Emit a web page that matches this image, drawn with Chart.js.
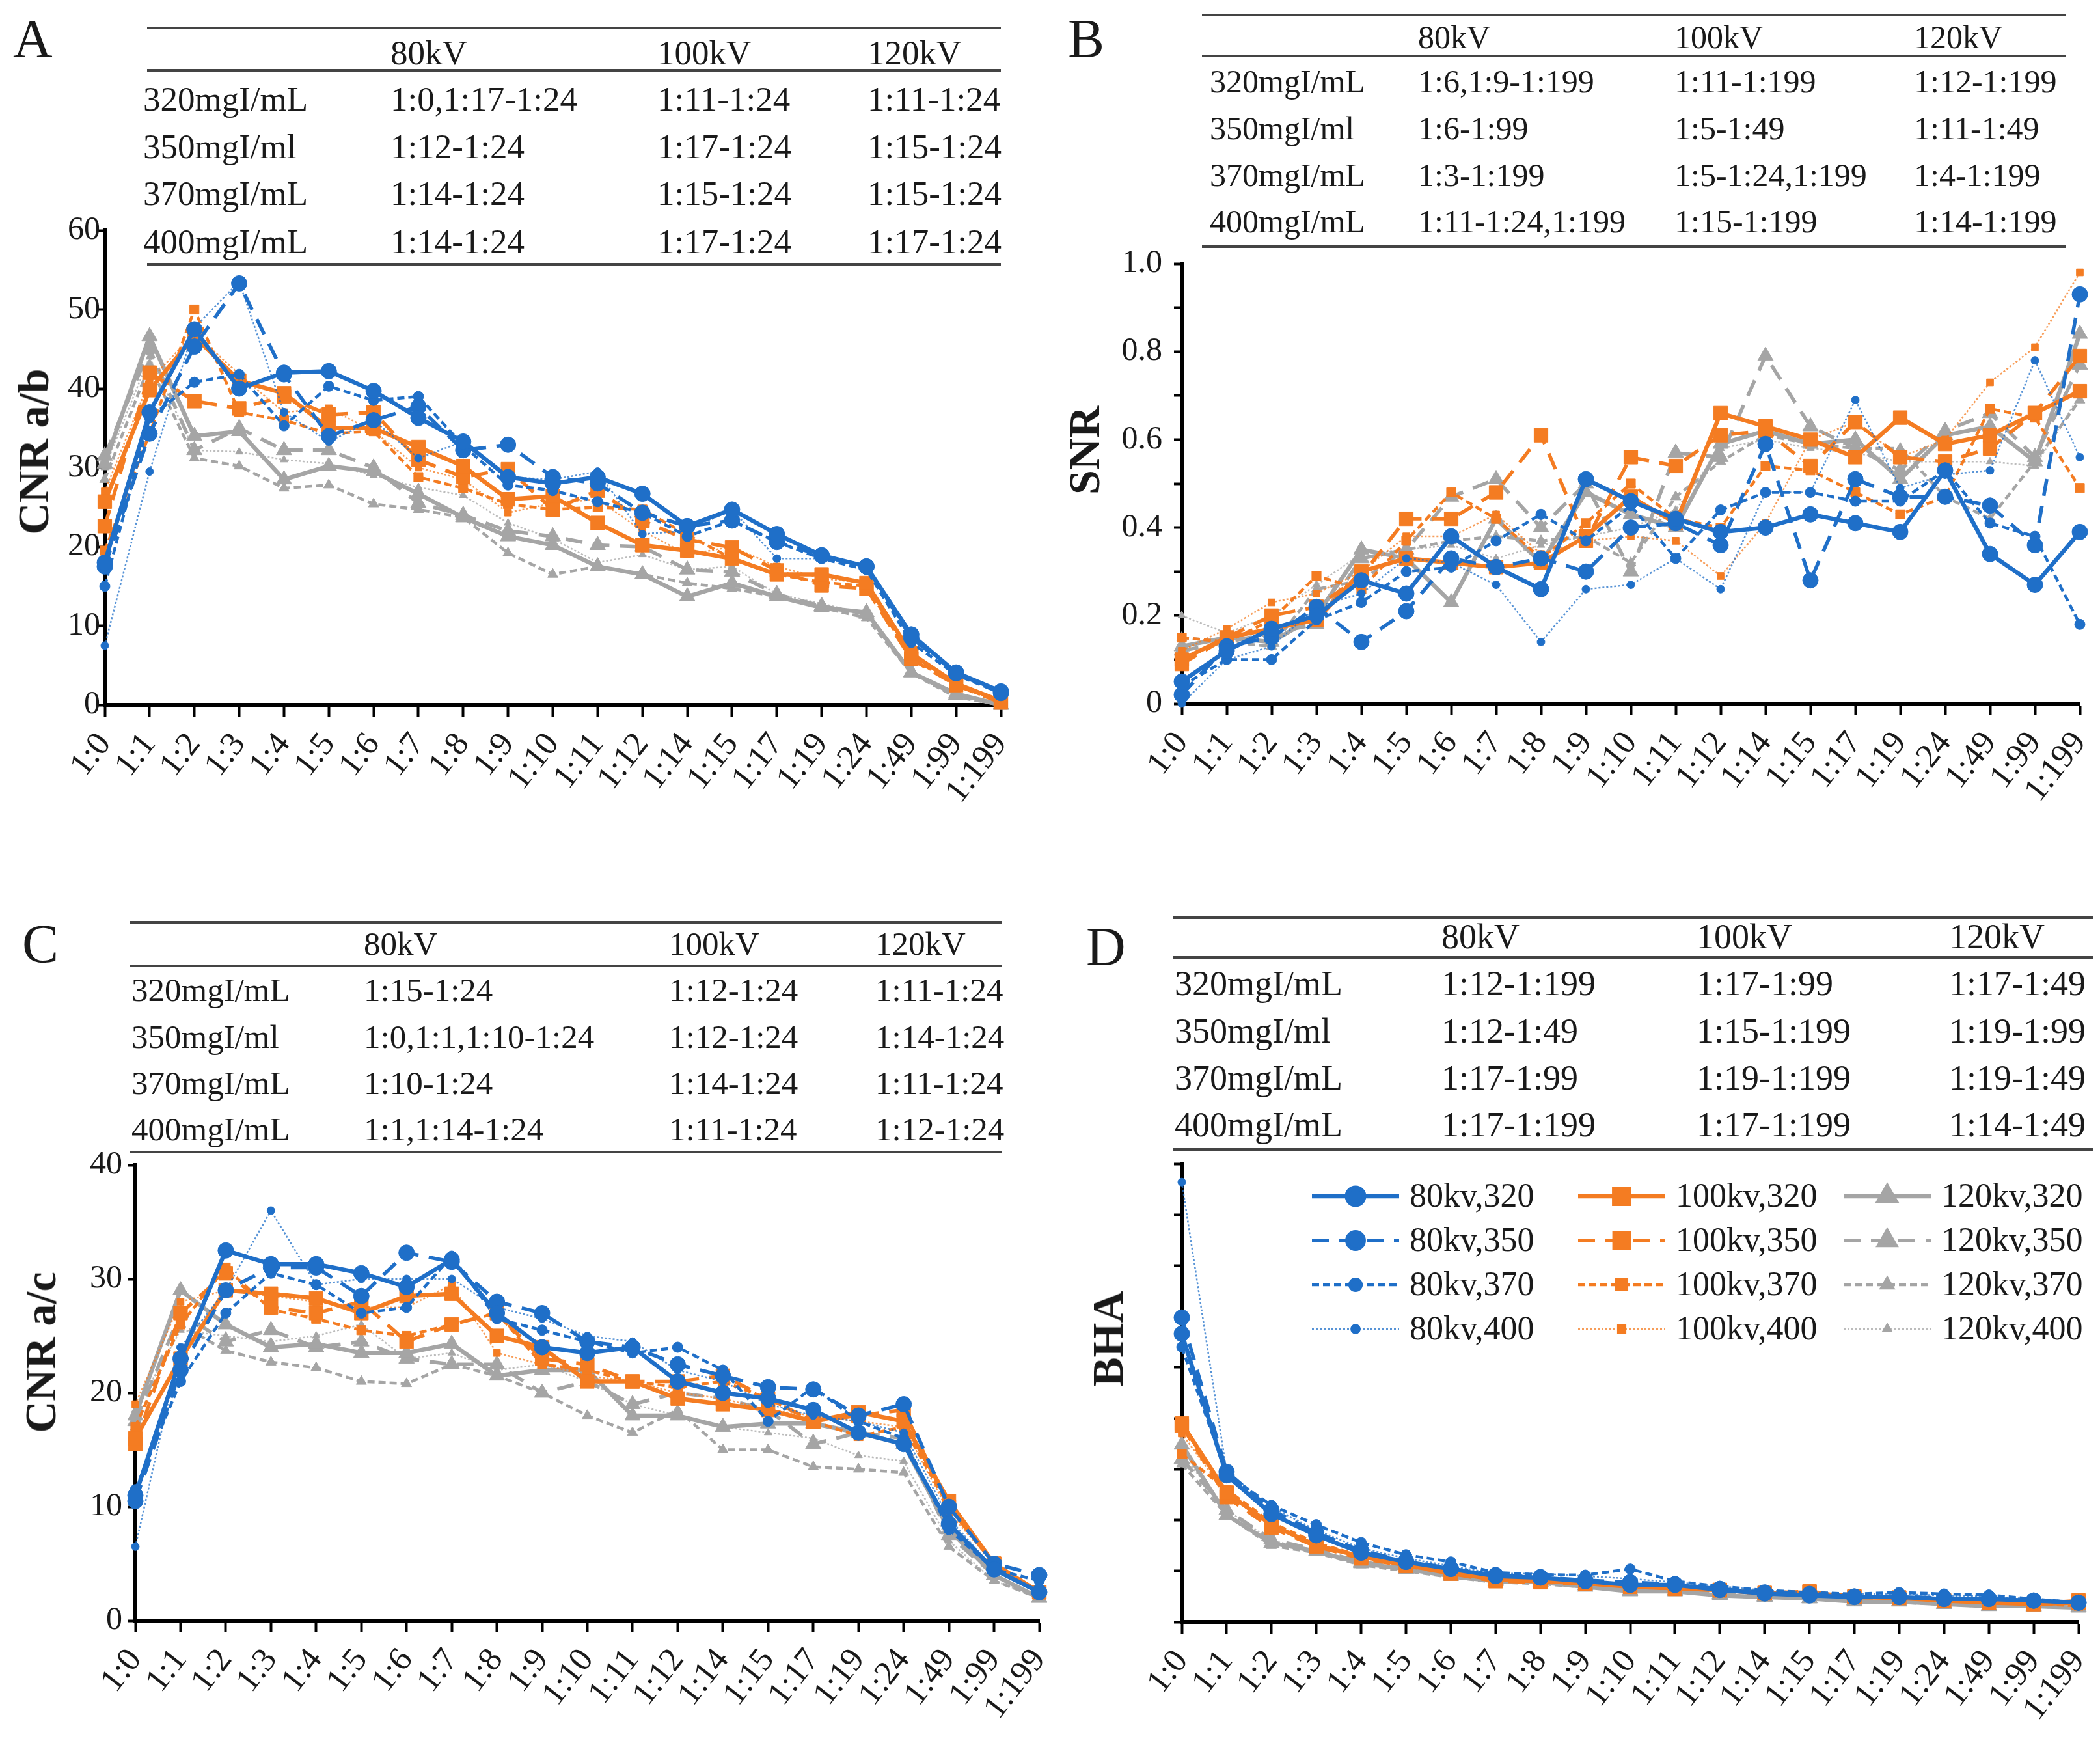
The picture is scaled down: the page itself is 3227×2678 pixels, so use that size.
<!DOCTYPE html>
<html lang="en">
<head>
<meta charset="UTF-8">
<title>CNR, SNR and BHA by dilution ratio</title>
<script src="https://cdn.jsdelivr.net/npm/chart.js@4"></script>
<style>
    body { margin: 0; background: #fff; }
    #page {
        position: relative;
        width: 3227px;
        height: 2678px;
        background: #fff;
        overflow: hidden;
        font-family: 'Liberation Serif', 'Times New Roman', serif;
        color: #1a1a1a;
    }
    .box { position: absolute; }
    .letter { position: absolute; font-size: 84px; line-height: 1; }
    .cell { position: absolute; white-space: nowrap; line-height: 1; transform: translateY(-50%); }
    .rule { position: absolute; height: 4px; background: #444; }
    .ytitle {
        position: absolute;
        font-weight: bold;
        font-size: 68px;
        line-height: 1;
        white-space: nowrap;
        transform: translate(-50%, -50%) rotate(-90deg);
    }
</style>
</head>
<body>
<div id="page"></div>

<script>
    // categories (dilution ratios)
    const ratios = ['1:0', '1:1', '1:2', '1:3', '1:4', '1:5', '1:6', '1:7', '1:8', '1:9', '1:10',
                    '1:11', '1:12', '1:14', '1:15', '1:17', '1:19', '1:24', '1:49', '1:99', '1:199'];
    const kvNames = ['80kv', '100kv', '120kv'];
    const iodineNames = ['320', '350', '370', '400'];

    // A: CNR a/b   rows = 320, 350, 370, 400 mgI/mL
    const cnrAB80 = [
        [18, 37, 47.5, 40, 42, 42.2, 39.7, 36.3, 33.3, 28.8, 28, 28.8, 26.7, 22.6, 24.7, 21.6, 18.9, 17.5, 8.9, 4.1, 1.7],
        [17.5, 34.3, 45.3, 53.3, 41.8, 34, 36, 37.7, 32.2, 32.9, 28.8, 28, 24.3, 22.6, 23.3, 20.6, 18.9, 17.5, 8.5, 4, 1.5],
        [15, 36.3, 40.8, 41.8, 35.3, 40.3, 38.5, 39, 32.8, 27.8, 27.1, 25.7, 24.3, 21.3, 23.3, 20.6, 18.5, 17.1, 7.9, 3.8, 1.5],
        [7.5, 29.5, 47.7, 53.5, 37, 33.3, 36, 31.2, 33.3, 28.8, 28.5, 29.5, 21.6, 22, 24.7, 18.5, 18.5, 17.5, 8.5, 4.1, 1.7]
    ];
    const cnrAB100 = [
        [25.7, 39.8, 46.6, 41, 39.4, 35, 35, 32.6, 30.2, 26, 26.4, 23, 20.2, 19.5, 18.5, 16.5, 16.5, 15.4, 6.5, 2.7, 0.5],
        [22.6, 42, 38.4, 37.5, 39, 36.7, 37, 31, 28.8, 29.8, 24.7, 27.1, 23.3, 20.9, 19.9, 17, 15.1, 14.7, 5.8, 2.5, 0.3],
        [19.5, 34.3, 50, 37, 36, 34.3, 34.6, 28.8, 27.4, 25.4, 24.7, 25, 24.7, 21.5, 18.5, 16.5, 15.5, 15, 6, 2.5, 0.3],
        [27, 41, 47, 41.8, 37, 37.5, 34.6, 30, 28.5, 24.3, 25.5, 26, 22, 19, 20, 17.5, 16, 15.4, 6.5, 2.7, 0.5]
    ];
    const cnrAB120 = [
        [30.5, 46.6, 34, 34.6, 28.5, 30.2, 29.5, 26.7, 23.7, 21.3, 20.2, 17.5, 16.5, 13.7, 15.4, 13.7, 12.3, 11.7, 4.1, 1.4, 0],
        [31.5, 45, 32.2, 35, 32.2, 32.2, 30, 25.5, 24, 22, 21.3, 20.2, 20, 17.1, 16.8, 14, 12.5, 11.5, 4.1, 1.2, 0],
        [28.5, 43, 31.2, 30.2, 27.4, 27.8, 25.4, 24.7, 23.7, 19.2, 16.5, 17.5, 16.5, 15.4, 14.7, 13.7, 12.3, 11, 4, 1, 0],
        [30, 44, 32.2, 32, 31, 30.5, 29, 27.5, 26.5, 23, 21, 18, 19, 17.1, 17.5, 14, 12.8, 11.5, 4.1, 1.2, 0]
    ];

    // B: SNR
    const snr80 = [
        [0.05, 0.12, 0.17, 0.2, 0.28, 0.25, 0.38, 0.31, 0.26, 0.51, 0.46, 0.42, 0.39, 0.4, 0.43, 0.41, 0.39, 0.53, 0.34, 0.27, 0.39],
        [0.02, 0.13, 0.15, 0.22, 0.14, 0.21, 0.33, 0.31, 0.33, 0.3, 0.4, 0.41, 0.36, 0.59, 0.28, 0.51, 0.47, 0.47, 0.45, 0.36, 0.93],
        [0.04, 0.1, 0.1, 0.19, 0.23, 0.3, 0.31, 0.37, 0.43, 0.37, 0.45, 0.33, 0.44, 0.48, 0.48, 0.46, 0.46, 0.53, 0.41, 0.38, 0.18],
        [0, 0.1, 0.13, 0.22, 0.25, 0.33, 0.32, 0.27, 0.14, 0.26, 0.27, 0.33, 0.26, 0.48, 0.48, 0.69, 0.49, 0.52, 0.53, 0.78, 0.56]
    ];
    const snr100 = [
        [0.1, 0.15, 0.17, 0.19, 0.3, 0.33, 0.32, 0.31, 0.32, 0.38, 0.47, 0.41, 0.66, 0.63, 0.6, 0.56, 0.65, 0.59, 0.61, 0.66, 0.71],
        [0.09, 0.15, 0.2, 0.22, 0.29, 0.42, 0.42, 0.48, 0.61, 0.37, 0.56, 0.54, 0.61, 0.62, 0.54, 0.64, 0.56, 0.55, 0.58, 0.66, 0.79],
        [0.15, 0.14, 0.19, 0.29, 0.26, 0.37, 0.48, 0.42, 0.33, 0.41, 0.5, 0.42, 0.4, 0.54, 0.53, 0.48, 0.43, 0.47, 0.67, 0.65, 0.49],
        [0.12, 0.17, 0.23, 0.25, 0.3, 0.38, 0.38, 0.43, 0.34, 0.37, 0.38, 0.37, 0.29, 0.41, 0.6, 0.64, 0.56, 0.6, 0.73, 0.81, 0.98]
    ];
    const snr120 = [
        [0.13, 0.15, 0.14, 0.2, 0.35, 0.33, 0.23, 0.42, 0.32, 0.48, 0.43, 0.4, 0.59, 0.62, 0.59, 0.6, 0.51, 0.61, 0.63, 0.55, 0.84],
        [0.12, 0.14, 0.16, 0.18, 0.33, 0.35, 0.47, 0.51, 0.4, 0.5, 0.3, 0.57, 0.56, 0.79, 0.63, 0.58, 0.53, 0.62, 0.66, 0.56, 0.77],
        [0.15, 0.14, 0.13, 0.26, 0.28, 0.35, 0.37, 0.38, 0.37, 0.38, 0.32, 0.47, 0.55, 0.61, 0.59, 0.58, 0.58, 0.47, 0.42, 0.55, 0.69],
        [0.2, 0.16, 0.2, 0.27, 0.34, 0.35, 0.36, 0.33, 0.36, 0.38, 0.4, 0.44, 0.58, 0.6, 0.58, 0.57, 0.55, 0.55, 0.55, 0.54, 0.7]
    ];

    // C: CNR a/c
    const cnrAC80 = [
        [11, 23, 32.5, 31.3, 31.3, 30.5, 29.3, 31.7, 27, 24, 23.5, 24, 21, 20, 19.5, 18.5, 16.5, 15.5, 8.5, 4.5, 2.5],
        [10.5, 22, 29, 31, 31, 28.5, 32.3, 31.5, 28, 27, 24.5, 24, 22.5, 21.5, 20.5, 20.3, 18, 19, 10, 5, 4],
        [11.5, 21, 27, 30.5, 29.5, 27, 27.5, 32, 26.5, 25.5, 24.5, 23.5, 24, 22, 17.5, 20.5, 17.5, 16, 8, 4.5, 3.5],
        [6.5, 24, 29, 36, 29.5, 30, 30, 30, 27.5, 26.5, 25, 24.5, 22, 21, 19, 18, 17.5, 16.5, 9, 4.5, 2.5]
    ];
    const cnrAC100 = [
        [16, 23, 29, 28.7, 28.3, 27, 28.5, 28.7, 25, 24, 21, 21, 19.5, 19, 18.5, 17.5, 18.3, 17.5, 10.5, 5, 2.5],
        [15.5, 27, 30.5, 27.5, 27, 28, 24.5, 26, 27, 23, 22.5, 21, 21, 21.5, 19.5, 17.5, 18, 18.5, 10, 5, 2.5],
        [17, 26, 31, 27.3, 26.5, 25.5, 25, 26, 27, 22.5, 22, 21, 20.5, 21, 19.5, 17.5, 16.2, 17, 10, 5, 2.5],
        [19, 28, 29, 28.5, 28, 27.5, 27.5, 29.5, 23.5, 22.5, 21.5, 21, 20, 19.5, 18.5, 18, 17.5, 17, 9.5, 5, 2.5]
    ];
    const cnrAC120 = [
        [18, 29, 26, 24, 24.3, 23.5, 23.5, 24.3, 21.5, 22, 22, 18, 18, 17, 17.3, 17.3, 16.5, 15.5, 8, 4, 2],
        [17.5, 27, 24.5, 25.5, 24, 24.5, 23, 22.5, 22.5, 20, 21, 19, 20, 19.5, 18.5, 15.5, 16.5, 16, 7.5, 4, 2],
        [17, 26, 23.7, 22.7, 22.2, 21, 20.8, 22.5, 21.5, 20, 18, 16.5, 18.5, 15, 15, 13.5, 13.3, 13, 6.5, 3.5, 2],
        [18.5, 25.5, 25, 24.5, 25, 26, 23, 23.5, 22, 22.5, 21, 19, 18, 17, 16.5, 16, 14.5, 14, 7, 3.5, 2]
    ];

    // D: BHA (axis has no printed values; read in tick units)
    const bha80 = [
        [5.66, 2.88, 2.12, 1.7, 1.36, 1.18, 1.04, 0.9, 0.87, 0.8, 0.73, 0.73, 0.63, 0.56, 0.52, 0.49, 0.49, 0.45, 0.45, 0.42, 0.38],
        [5.98, 2.95, 2.2, 1.75, 1.4, 1.2, 1.05, 0.92, 0.88, 0.82, 0.78, 0.74, 0.65, 0.58, 0.55, 0.5, 0.5, 0.47, 0.46, 0.42, 0.38],
        [5.4, 2.9, 2.29, 1.91, 1.56, 1.32, 1.18, 0.97, 0.93, 0.92, 1.04, 0.8, 0.7, 0.62, 0.58, 0.55, 0.58, 0.55, 0.53, 0.45, 0.38],
        [8.64, 2.95, 2.26, 1.8, 1.45, 1.25, 1.1, 0.95, 0.95, 0.9, 0.85, 0.78, 0.7, 0.62, 0.58, 0.55, 0.55, 0.52, 0.5, 0.45, 0.4]
    ];
    const bha100 = [
        [3.9, 2.54, 1.91, 1.5, 1.29, 1.11, 0.97, 0.83, 0.8, 0.76, 0.69, 0.66, 0.63, 0.56, 0.58, 0.49, 0.47, 0.42, 0.38, 0.35, 0.38],
        [3.85, 2.45, 1.85, 1.48, 1.25, 1.1, 0.95, 0.8, 0.78, 0.75, 0.7, 0.65, 0.62, 0.57, 0.6, 0.5, 0.48, 0.42, 0.38, 0.36, 0.42],
        [3.3, 2.6, 1.95, 1.55, 1.3, 1.12, 0.98, 0.85, 0.8, 0.78, 0.72, 0.66, 0.62, 0.55, 0.52, 0.5, 0.48, 0.43, 0.38, 0.35, 0.32],
        [3.7, 2.5, 1.9, 1.5, 1.28, 1.1, 0.96, 0.84, 0.82, 0.75, 0.7, 0.67, 0.62, 0.56, 0.54, 0.5, 0.47, 0.42, 0.4, 0.36, 0.35]
    ];
    const bha120 = [
        [3.48, 2.1, 1.55, 1.39, 1.15, 1.04, 0.9, 0.8, 0.78, 0.69, 0.6, 0.6, 0.52, 0.49, 0.46, 0.4, 0.4, 0.35, 0.31, 0.31, 0.28],
        [3.2, 2.2, 1.62, 1.42, 1.18, 1.06, 0.92, 0.82, 0.78, 0.72, 0.62, 0.62, 0.55, 0.5, 0.47, 0.42, 0.4, 0.36, 0.32, 0.3, 0.3],
        [3.1, 2.1, 1.5, 1.36, 1.12, 1.0, 0.88, 0.78, 0.75, 0.68, 0.62, 0.6, 0.52, 0.48, 0.46, 0.4, 0.38, 0.35, 0.3, 0.3, 0.28],
        [3.3, 2.2, 1.6, 1.4, 1.15, 1.05, 0.92, 0.82, 0.8, 0.72, 0.65, 0.62, 0.55, 0.5, 0.48, 0.42, 0.4, 0.36, 0.33, 0.32, 0.3]
    ];

    // significance tables printed above each panel
    const tableHeader = ['', '80kV', '100kV', '120kV'];
    const tableA = [
        ['320mgI/mL', '1:0,1:17-1:24', '1:11-1:24', '1:11-1:24'],
        ['350mgI/ml', '1:12-1:24', '1:17-1:24', '1:15-1:24'],
        ['370mgI/mL', '1:14-1:24', '1:15-1:24', '1:15-1:24'],
        ['400mgI/mL', '1:14-1:24', '1:17-1:24', '1:17-1:24']
    ];
    const tableB = [
        ['320mgI/mL', '1:6,1:9-1:199', '1:11-1:199', '1:12-1:199'],
        ['350mgI/ml', '1:6-1:99', '1:5-1:49', '1:11-1:49'],
        ['370mgI/mL', '1:3-1:199', '1:5-1:24,1:199', '1:4-1:199'],
        ['400mgI/mL', '1:11-1:24,1:199', '1:15-1:199', '1:14-1:199']
    ];
    const tableC = [
        ['320mgI/mL', '1:15-1:24', '1:12-1:24', '1:11-1:24'],
        ['350mgI/ml', '1:0,1:1,1:10-1:24', '1:12-1:24', '1:14-1:24'],
        ['370mgI/mL', '1:10-1:24', '1:14-1:24', '1:11-1:24'],
        ['400mgI/mL', '1:1,1:14-1:24', '1:11-1:24', '1:12-1:24']
    ];
    const tableD = [
        ['320mgI/mL', '1:12-1:199', '1:17-1:99', '1:17-1:49'],
        ['350mgI/ml', '1:12-1:49', '1:15-1:199', '1:19-1:99'],
        ['370mgI/mL', '1:17-1:99', '1:19-1:199', '1:19-1:49'],
        ['400mgI/mL', '1:17-1:199', '1:17-1:199', '1:14-1:49']
    ];

    // ---- styling ----
    const serif = "'Liberation Serif', 'Times New Roman', serif";
    const kvColors = [[31, 111, 200], [244, 124, 34], [165, 165, 165]];
    const kvShapes = ['circle', 'rect', 'triangle'];
    const lineStyles = [
        { width: 6.5, dash: [], radius: 12, alpha: 1 },
        { width: 5.5, dash: [26, 16], radius: 12, alpha: 1 },
        { width: 4.5, dash: [11, 6], radius: 8, alpha: 1 },
        { width: 2.5, dash: [3, 3], radius: 6, alpha: 0.75 }
    ];

    const page = document.getElementById('page');

    function rgba(c, a) { return 'rgba(' + c[0] + ',' + c[1] + ',' + c[2] + ',' + a + ')'; }

    function makeDatasets(groups) {
        const sets = [];
        groups.forEach((rows, k) => {
            rows.forEach((vals, c) => {
                const st = lineStyles[c];
                let r = st.radius;
                if (kvShapes[k] === 'rect') r *= 1.25;
                if (kvShapes[k] === 'triangle') r *= 1.15;
                sets.push({
                    label: kvNames[k] + ',' + iodineNames[c],
                    data: vals,
                    borderColor: rgba(kvColors[k], st.alpha),
                    backgroundColor: rgba(kvColors[k], 1),
                    pointBackgroundColor: rgba(kvColors[k], 1),
                    pointBorderColor: rgba(kvColors[k], 1),
                    pointBorderWidth: 1,
                    pointStyle: kvShapes[k],
                    pointRadius: r,
                    borderWidth: st.width,
                    borderDash: st.dash,
                    tension: 0,
                    clip: false
                });
            });
        });
        return sets;
    }

    function addText(cls, text, x, y, size) {
        const d = document.createElement('div');
        d.className = cls;
        d.textContent = text;
        d.style.left = x + 'px';
        d.style.top = y + 'px';
        if (size) d.style.fontSize = size + 'px';
        page.appendChild(d);
        return d;
    }

    function addRule(x1, x2, y) {
        const d = document.createElement('div');
        d.className = 'rule';
        d.style.left = x1 + 'px';
        d.style.width = (x2 - x1) + 'px';
        d.style.top = (y - 2) + 'px';
        page.appendChild(d);
    }

    function drawTable(rows, g) {
        addRule(g.x1, g.x2, g.top);
        addRule(g.x1, g.x2, g.headLine);
        addRule(g.x1, g.x2, g.bottom);
        tableHeader.forEach((t, i) => { if (t) addText('cell', t, g.cols[i], g.headY, g.size); });
        rows.forEach((row, r) => {
            row.forEach((t, i) => addText('cell', t, g.cols[i], g.rowsY[r], g.size));
        });
    }

    // inside legend for panel D
    const gridLegend = {
        id: 'gridLegend',
        afterDatasetsDraw(chart, args, opts) {
            if (!opts.show) return;
            const ctx = chart.ctx;
            chart.data.datasets.forEach((ds, i) => {
                const col = Math.floor(i / 4), row = i % 4;
                const x1 = opts.colX[col] - opts.originX;
                const x2 = x1 + opts.lineLen;
                const y = opts.rowY[row] - opts.originY;
                ctx.save();
                ctx.strokeStyle = ds.borderColor;
                ctx.lineWidth = ds.borderWidth;
                ctx.setLineDash(ds.borderDash);
                ctx.beginPath();
                ctx.moveTo(x1, y);
                ctx.lineTo(x2, y);
                ctx.stroke();
                ctx.setLineDash([]);
                ctx.fillStyle = ds.pointBackgroundColor;
                ctx.strokeStyle = ds.pointBorderColor;
                Chart.helpers.drawPoint(ctx, {
                    pointStyle: ds.pointStyle, radius: ds.pointRadius * 1.1, borderWidth: 1, rotation: 0
                }, (x1 + x2) / 2, y);
                ctx.fillStyle = '#1a1a1a';
                ctx.font = '52px ' + serif;
                ctx.textAlign = 'left';
                ctx.textBaseline = 'middle';
                ctx.fillText(ds.label, x2 + 16, y + 2);
                ctx.restore();
            });
        }
    };

    function makePanel(p) {
        const yW = 120, padTop = 40, padRight = 90, xH = 180;
        const left = p.axisX - yW;
        const top = p.topY - padTop;
        const width = p.endX + padRight - left;
        const height = p.botY + xH - top;

        const box = document.createElement('div');
        box.className = 'box';
        box.style.left = left + 'px';
        box.style.top = top + 'px';
        box.style.width = width + 'px';
        box.style.height = height + 'px';
        const canvas = document.createElement('canvas');
        box.appendChild(canvas);
        page.appendChild(box);

        new Chart(canvas.getContext('2d'), {
            type: 'line',
            data: { labels: ratios, datasets: makeDatasets(p.groups) },
            plugins: [gridLegend],
            options: {
                responsive: true,
                maintainAspectRatio: false,
                animation: false,
                layout: { padding: { top: padTop, right: padRight, left: 0, bottom: 0 } },
                plugins: {
                    legend: { display: false },
                    tooltip: { enabled: false },
                    gridLegend: Object.assign({ originX: left, originY: top }, p.legend || { show: false })
                },
                scales: {
                    x: {
                        offset: false,
                        afterFit: (s) => { s.height = xH; },
                        border: { display: true, color: '#000', width: 6 },
                        grid: { drawOnChartArea: false, drawTicks: true, tickLength: 18, tickWidth: 4, tickColor: '#000' },
                        ticks: {
                            autoSkip: false, minRotation: 52, maxRotation: 52, padding: 14,
                            color: '#1a1a1a', font: { family: serif, size: 52 }
                        }
                    },
                    y: {
                        min: p.yMin, max: p.yMax,
                        afterFit: (s) => { s.width = yW; },
                        border: { display: true, color: '#000', width: 6 },
                        grid: { drawOnChartArea: false, drawTicks: true, tickLength: 12, tickWidth: 4, tickColor: '#000' },
                        ticks: {
                            stepSize: p.step, padding: p.tickPad,
                            color: '#1a1a1a', font: { family: serif, size: 50 },
                            callback: p.tickLabel
                        }
                    }
                }
            }
        });

        addText('ytitle', p.title, p.titleX, p.titleY);
        addText('letter', p.letter, p.letterX, p.letterY);
    }

    // ---- panels ----
    makePanel({
        letter: 'A', letterX: 20, letterY: 18,
        title: 'CNR a/b', titleX: 51, titleY: 694,
        axisX: 161, endX: 1538, topY: 354, botY: 1083,
        yMin: 0, yMax: 60, step: 10, tickPad: -5,
        tickLabel: (v) => v,
        groups: [cnrAB80, cnrAB100, cnrAB120]
    });
    drawTable(tableA, {
        x1: 226, x2: 1538, top: 43, headY: 81, headLine: 108, bottom: 406,
        rowsY: [152, 225, 297, 371], cols: [220, 600, 1010, 1333], size: 53
    });

    makePanel({
        letter: 'B', letterX: 1641, letterY: 18,
        title: 'SNR', titleX: 1666, titleY: 692,
        axisX: 1816, endX: 3196, topY: 397, botY: 1081,
        yMin: 0, yMax: 1, step: 0.1, tickPad: 18,
        tickLabel: (v, i) => (i % 2 === 0 ? (i === 0 ? '0' : (i / 10).toFixed(1)) : ''),
        groups: [snr80, snr100, snr120]
    });
    drawTable(tableB, {
        x1: 1847, x2: 3175, top: 23, headY: 57, headLine: 86, bottom: 379,
        rowsY: [125, 197, 269, 340], cols: [1859, 2179, 2573, 2941], size: 50
    });

    makePanel({
        letter: 'C', letterX: 34, letterY: 1409,
        title: 'CNR a/c', titleX: 62, titleY: 2078,
        axisX: 208, endX: 1597, topY: 1790, botY: 2490,
        yMin: 0, yMax: 40, step: 10, tickPad: 8,
        tickLabel: (v) => v,
        groups: [cnrAC80, cnrAC100, cnrAC120]
    });
    drawTable(tableC, {
        x1: 199, x2: 1540, top: 1417, headY: 1450, headLine: 1484, bottom: 1770,
        rowsY: [1521, 1593, 1664, 1735], cols: [202, 559, 1028, 1345], size: 51
    });

    makePanel({
        letter: 'D', letterX: 1669, letterY: 1413,
        title: 'BHA', titleX: 1702, titleY: 2057,
        axisX: 1816, endX: 3194, topY: 1788, botY: 2492,
        yMin: 0, yMax: 9, step: 1, tickPad: 8,
        tickLabel: () => '',
        groups: [bha80, bha100, bha120],
        legend: {
            show: true,
            colX: [2016, 2425, 2833], rowY: [1838, 1906, 1974, 2042], lineLen: 134
        }
    });
    drawTable(tableD, {
        x1: 1803, x2: 3216, top: 1410, headY: 1439, headLine: 1471, bottom: 1766,
        rowsY: [1511, 1584, 1656, 1728], cols: [1805, 2215, 2607, 2995], size: 54
    });
</script>
</body>
</html>
